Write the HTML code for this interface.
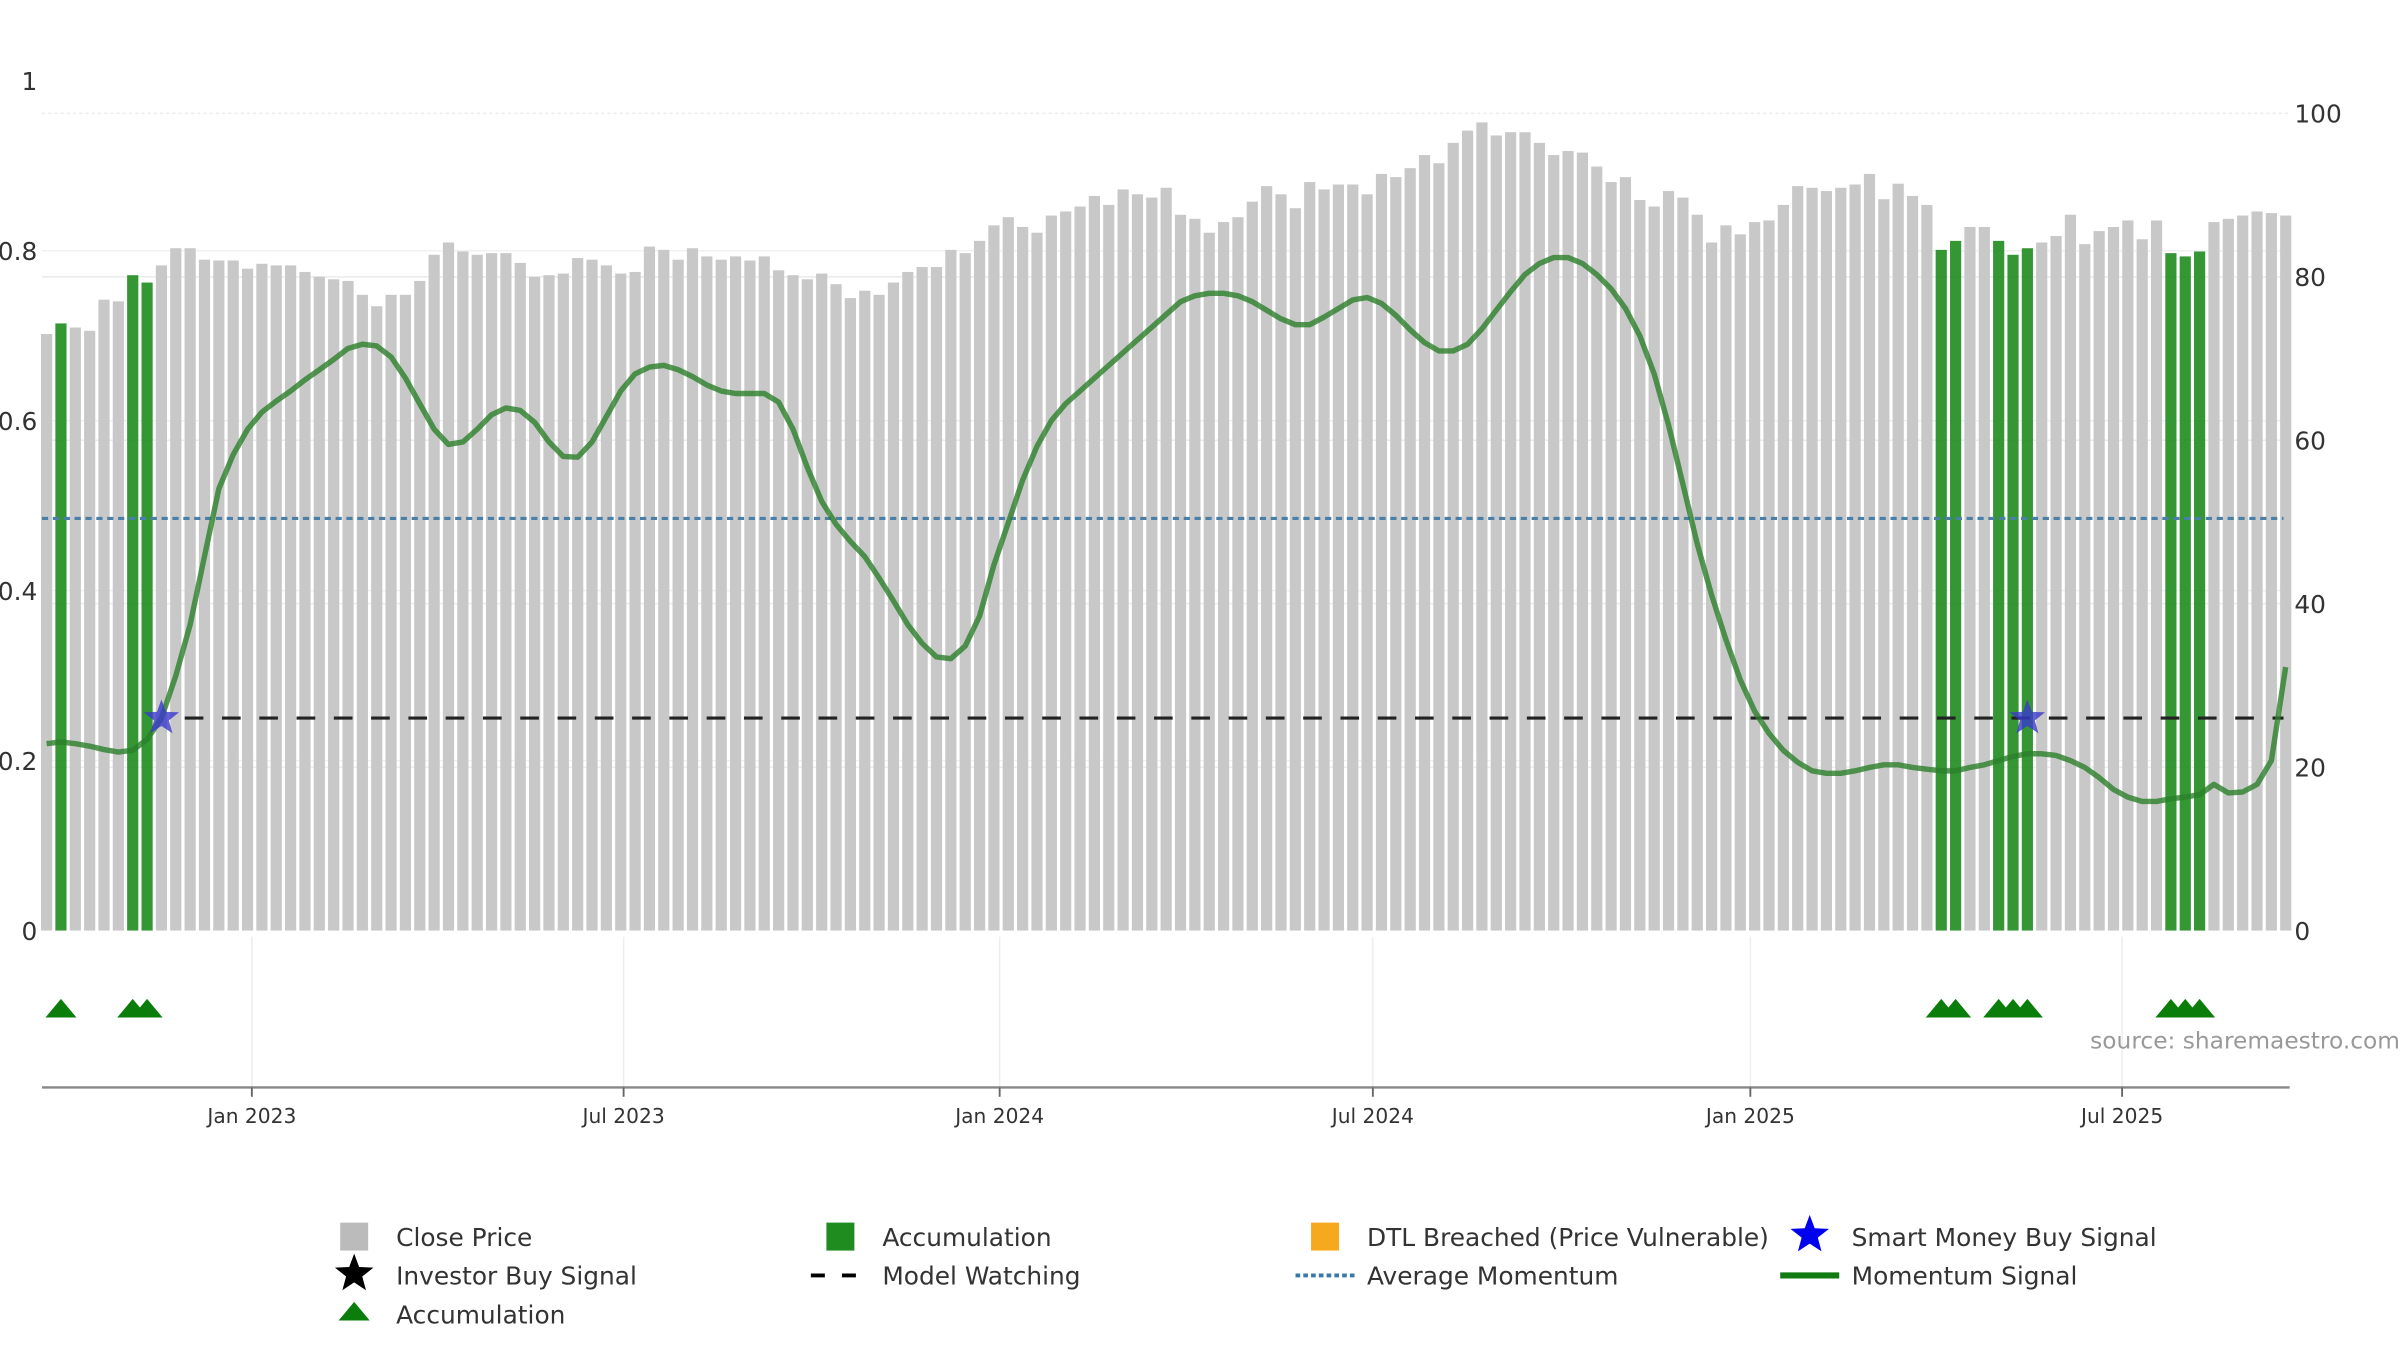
<!DOCTYPE html>
<html><head><meta charset="utf-8"><style>
html,body{margin:0;padding:0;background:#fff;}
svg{display:block;font-family:"DejaVu Sans","Liberation Sans",sans-serif;}
</style></head><body>
<svg id="chart" width="2400" height="1350" viewBox="0 0 1545 869" preserveAspectRatio="none" xmlns="http://www.w3.org/2000/svg">
<g id="grid"></g>
<g id="bars"></g>
<g id="lines"></g>
<g id="axes"></g>
<text x="1545" y="675" text-anchor="end" font-size="15" fill="#999">source: sharemaestro.com</text>
<g id="legend" font-size="15" fill="#333"></g>
</svg>
<script>
const prices=[73,74.3,73.8,73.4,77.2,77,80.2,79.3,81.4,83.5,83.5,82.1,82,82,81,81.6,81.4,81.4,80.6,80,79.7,79.5,77.8,76.4,77.8,77.8,79.5,82.7,84.2,83.1,82.7,82.9,82.9,81.7,80,80.2,80.4,82.3,82.1,81.4,80.4,80.6,83.7,83.3,82.1,83.5,82.5,82.1,82.5,82,82.5,80.8,80.2,79.7,80.4,79.1,77.4,78.3,77.8,79.3,80.6,81.2,81.2,83.3,82.9,84.4,86.3,87.3,86.1,85.4,87.5,88,88.6,89.9,88.8,90.7,90.1,89.7,90.9,87.6,87.1,85.4,86.7,87.3,89.2,91.1,90.1,88.4,91.6,90.7,91.3,91.3,90.1,92.6,92.2,93.3,94.9,93.9,96.4,97.9,98.9,97.3,97.7,97.7,96.4,94.9,95.4,95.2,93.5,91.6,92.2,89.4,88.6,90.5,89.7,87.6,84.2,86.3,85.2,86.7,86.9,88.8,91.1,90.9,90.5,90.9,91.3,92.6,89.5,91.4,89.9,88.8,83.3,84.4,86.1,86.1,84.4,82.7,83.5,84.2,85,87.6,84,85.6,86.1,86.9,84.6,86.9,82.9,82.5,83.1,86.7,87.1,87.5,88,87.8,87.5];
const accumIdx=[1,6,7,132,133,136,137,138,148,149,150];
const momentum=[.22,.222,.22,.217,.213,.21,.212,.225,.25,.3,.36,.44,.52,.56,.59,.61,.623,.635,.648,.66,.672,.685,.69,.688,.675,.65,.62,.59,.572,.575,.59,.607,.615,.612,.598,.575,.558,.557,.575,.605,.635,.655,.663,.665,.66,.652,.642,.635,.632,.632,.632,.622,.59,.545,.505,.478,.458,.44,.415,.388,.36,.338,.322,.32,.335,.37,.43,.48,.53,.57,.6,.62,.635,.65,.665,.68,.695,.71,.725,.74,.747,.75,.75,.747,.74,.73,.72,.713,.713,.722,.732,.742,.745,.738,.724,.707,.692,.682,.682,.69,.708,.73,.752,.772,.785,.792,.792,.785,.772,.755,.732,.7,.655,.595,.525,.455,.395,.342,.295,.258,.232,.212,.198,.188,.185,.185,.188,.192,.195,.195,.192,.19,.188,.188,.192,.195,.2,.205,.208,.208,.206,.2,.192,.18,.166,.157,.152,.152,.155,.157,.16,.172,.162,.163,.172,.2,.31];
const smartIdx=[8,138];
const avgMomentum=0.485;
const watchLevel=0.25;
const leftTicks=[0,0.2,0.4,0.6,0.8,1];
const rightTicks=[0,20,40,60,80,100];
const dateTicks=["Jan 2023","Jul 2023","Jan 2024","Jul 2024","Jan 2025","Jul 2025"];
const dateTickWeeks=[14.3,40.2,66.4,92.4,118.7,144.6];

const NS="http://www.w3.org/2000/svg";
const X0=30,STEP=9.24,L=27,R=1474;
const xOf=i=>X0+STEP*i;
const yR=v=>599-v*5.26;
const yL=v=>599-v*547;
function mk(tag,attrs,parent,text){const e=document.createElementNS(NS,tag);for(const k in attrs)e.setAttribute(k,attrs[k]);if(text!==undefined)e.textContent=text;parent.appendChild(e);return e;}
const grid=document.getElementById('grid'),bars=document.getElementById('bars'),lines=document.getElementById('lines'),axes=document.getElementById('axes'),legend=document.getElementById('legend');

rightTicks.forEach(t=>{if(t>0){const g=mk('line',{x1:L,x2:R,y1:yR(t),y2:yR(t),stroke:'#ececec','stroke-width':1,'stroke-dasharray':t==100?'2,2':''},grid);}
 const tx=mk('text',{x:1477,y:yR(t)+6,'font-size':16,fill:'#333'},axes,String(t));});
leftTicks.forEach(t=>{if(t>0&&t<1){const g=mk('line',{x1:L,x2:R,y1:yL(t),y2:yL(t),stroke:'#f0f0f0','stroke-width':1},grid);}
 const tx=mk('text',{x:24,y:yL(t)+6,'font-size':16,fill:'#333','text-anchor':'end'},axes,t===0?'0':(t===1?'1':String(t)));});

prices.forEach((p,i)=>{const acc=accumIdx.includes(i);
 const b=mk('rect',{x:xOf(i)-3.6,y:yR(p),width:7.2,height:599-yR(p),fill:acc?'#1e8c1e':'#c8c8c8','fill-opacity':acc?0.9:1},bars);
 
 if(acc){const t=mk('polygon',{points:`${xOf(i)-10},655 ${xOf(i)},643 ${xOf(i)+10},655`,fill:'#0a7d0a'},axes);}
});

let a=mk('line',{x1:L,x2:1470,y1:yL(avgMomentum),y2:yL(avgMomentum),stroke:'#4a7fa8','stroke-width':2,'stroke-dasharray':'4,3'},lines);

a=mk('line',{x1:xOf(smartIdx[0])+15,x2:1470,y1:yL(watchLevel),y2:yL(watchLevel),stroke:'#222','stroke-width':2,'stroke-dasharray':'12,12'},lines);

const d=momentum.map((v,i)=>(i?'L':'M')+xOf(i).toFixed(1)+','+yL(v).toFixed(1)).join(' ');
a=mk('path',{d:d,fill:'none',stroke:'#2a7f2a','stroke-opacity':0.8,'stroke-width':3.5,'stroke-linejoin':'round'},lines);

function star(cx,cy,r){let p=[];for(let k=0;k<10;k++){const rr=k%2?r*0.42:r;const an=-Math.PI/2+k*Math.PI/5;p.push((cx+rr*Math.cos(an)).toFixed(1)+','+(cy+rr*Math.sin(an)).toFixed(1));}return p.join(' ');}
smartIdx.forEach(i=>{const s=mk('polygon',{points:star(xOf(i),yL(watchLevel),12),fill:'#3a3acc','fill-opacity':0.8},lines);});

mk('line',{x1:L,x2:R,y1:700,y2:700,stroke:'#888','stroke-width':1.5},axes);
dateTicks.forEach((lab,k)=>{const x=xOf(dateTickWeeks[k]);
 const g=mk('line',{x1:x,x2:x,y1:603,y2:700,stroke:'#eee','stroke-width':1},grid);
 mk('line',{x1:x,x2:x,y1:700,y2:706,stroke:'#666','stroke-width':1.2},axes);
 const t=mk('text',{x:x,y:723,'font-size':13,fill:'#333','text-anchor':'middle'},axes,lab);});

const items=[
 [228,796,'rect','#bbb','Close Price'],[541,796,'rect','#1e8c1e','Accumulation'],[853,796,'rect','#f7a91e','DTL Breached (Price Vulnerable)'],[1165,796,'star','#0000ee','Smart Money Buy Signal'],
 [228,821,'star','#000','Investor Buy Signal'],[541,821,'dash','#000','Model Watching'],[853,821,'dot','#3a78a8','Average Momentum'],[1165,821,'line','#117a11','Momentum Signal'],
 [228,846,'tri','#0a7d0a','Accumulation']];
items.forEach(([x,y,k,c,lab])=>{const g=mk('g',{},legend);
 if(k==='rect')mk('rect',{x:x-9,y:y-9,width:18,height:18,fill:c},g);
 if(k==='star')mk('polygon',{points:star(x,y-1,13),fill:c},g);
 if(k==='dash')mk('line',{x1:x-19,x2:x+19,y1:y,y2:y,stroke:c,'stroke-width':2.5,'stroke-dasharray':'9,11'},g);
 if(k==='dot')mk('line',{x1:x-19,x2:x+19,y1:y,y2:y,stroke:c,'stroke-width':2.5,'stroke-dasharray':'3,2'},g);
 if(k==='line')mk('line',{x1:x-19,x2:x+19,y1:y,y2:y,stroke:c,'stroke-width':4},g);
 if(k==='tri')mk('polygon',{points:`${x-10},${y+4} ${x},${y-8} ${x+10},${y+4}`,fill:c},g);
 mk('text',{x:x+27,y:y+6,'font-size':16,fill:'#333'},g,lab);});
</script>
</body></html>
